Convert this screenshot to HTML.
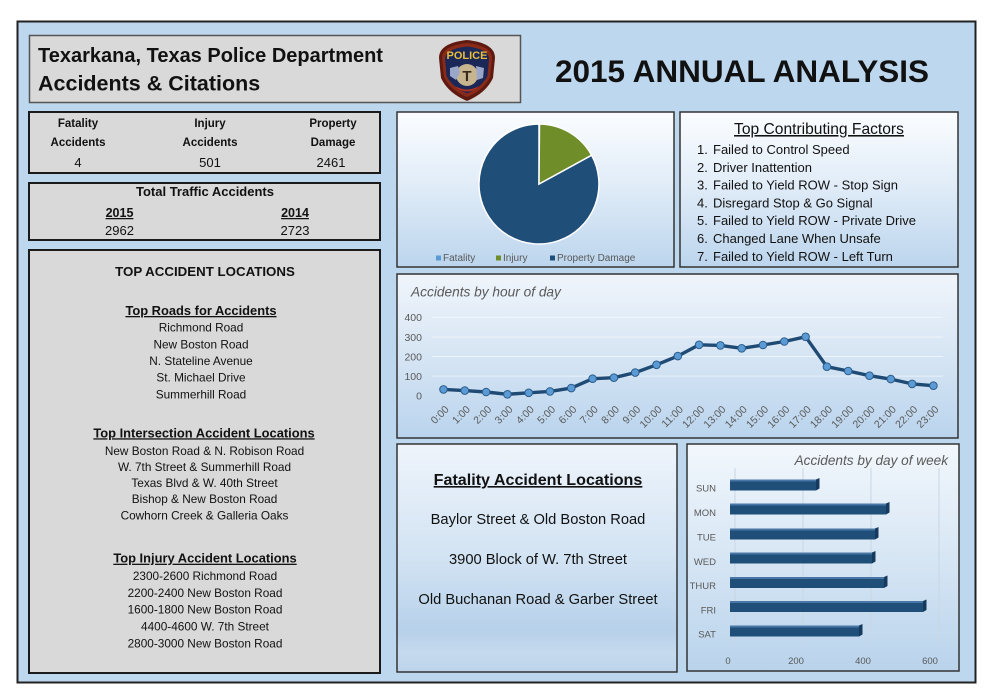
<!DOCTYPE html>
<html>
<head>
<meta charset="utf-8">
<style>
html,body{margin:0;padding:0;background:#fff;}
svg{display:block;}
text{font-family:"Liberation Sans",Arial,sans-serif;}
</style>
</head>
<body>
<svg width="987" height="692" viewBox="0 0 987 692" xmlns="http://www.w3.org/2000/svg">
<defs>
  <linearGradient id="gPie" x1="0" y1="0" x2="0" y2="1">
    <stop offset="0" stop-color="#fbfdff"/>
    <stop offset="0.45" stop-color="#e2edf8"/>
    <stop offset="1" stop-color="#bcd5ed"/>
  </linearGradient>
  <linearGradient id="gLine" x1="0" y1="0" x2="0" y2="1">
    <stop offset="0" stop-color="#f0f5fb"/>
    <stop offset="0.5" stop-color="#d6e5f4"/>
    <stop offset="1" stop-color="#bad4ed"/>
  </linearGradient>
  <linearGradient id="gFat" x1="0" y1="0" x2="0" y2="1">
    <stop offset="0" stop-color="#eef4fb"/>
    <stop offset="0.5" stop-color="#d2e3f3"/>
    <stop offset="0.82" stop-color="#b7d1ea"/>
    <stop offset="0.92" stop-color="#c6daee"/>
    <stop offset="1" stop-color="#bcd4ec"/>
  </linearGradient>
  <linearGradient id="gBar" x1="0" y1="0" x2="0" y2="1">
    <stop offset="0" stop-color="#f2f7fc"/>
    <stop offset="0.5" stop-color="#d7e6f4"/>
    <stop offset="1" stop-color="#b9d3ec"/>
  </linearGradient>
</defs>

<!-- outer frame -->
<rect x="17.5" y="21.5" width="958" height="661" fill="#bdd7ee" stroke="#222" stroke-width="2"/>

<!-- header box -->
<rect x="29.5" y="35.5" width="491" height="67" fill="#d9d9d9" stroke="#555" stroke-width="1.5"/>
<text x="38" y="62" font-size="20" font-weight="bold" fill="#111">Texarkana, Texas Police Department</text>
<text x="38" y="90.5" font-size="21.5" font-weight="bold" fill="#111">Accidents &amp; Citations</text>

<!-- logo -->
<g>
  <path d="M439 58 Q439 43 467 40 Q495 43 495 58 L493 78 Q486 93 467 101 Q448 93 441 78 Z" fill="#5e1a10"/>
  <path d="M442 58 Q442 46 467 43 Q492 46 492 58 L490 77 Q484 90 467 97 Q450 90 444 77 Z" fill="#8a2a18"/>
  <path d="M445 59 Q445 49 467 46.5 Q489 49 489 59 L487.5 76 Q482 87 467 93.5 Q452 87 446.5 76 Z" fill="#1b2757"/>
  <text x="467" y="59" font-size="11" font-weight="bold" fill="#e9bd3c" text-anchor="middle">POLICE</text>
  <circle cx="467" cy="75" r="11" fill="#c7b58f"/>
  <path d="M450 68 L458 66 L460 72 L456 80 L450 76 Z" fill="#9aa7c9"/>
  <path d="M476 66 L484 68 L483 78 L477 80 Z" fill="#9aa7c9"/>
  <text x="467" y="81" font-size="15" font-weight="bold" fill="#3a2a1a" text-anchor="middle">T</text>
  <path d="M455 86 Q467 93 479 86 L476 89 Q467 94 458 89 Z" fill="#b03020"/>
</g>

<text x="555" y="82" font-size="31.5" font-weight="bold" fill="#111">2015 ANNUAL ANALYSIS</text>

<!-- stat box 1 -->
<rect x="29" y="112" width="351" height="61" fill="#d9d9d9" stroke="#1a1a1a" stroke-width="2"/>
<g font-size="11.5" font-weight="bold" fill="#111" text-anchor="middle">
  <text x="78" y="127">Fatality</text>
  <text x="78" y="146">Accidents</text>
  <text x="210" y="127">Injury</text>
  <text x="210" y="146">Accidents</text>
  <text x="333" y="127">Property</text>
  <text x="333" y="146">Damage</text>
</g>
<g font-size="13" fill="#111" text-anchor="middle">
  <text x="78" y="167">4</text>
  <text x="210" y="167">501</text>
  <text x="331" y="167">2461</text>
</g>

<!-- stat box 2 -->
<rect x="29" y="183" width="351" height="57" fill="#d9d9d9" stroke="#1a1a1a" stroke-width="2"/>
<text x="205" y="196" font-size="13" font-weight="bold" fill="#111" text-anchor="middle">Total  Traffic Accidents</text>
<text x="119.5" y="217" font-size="12.5" font-weight="bold" fill="#111" text-anchor="middle" text-decoration="underline">2015</text>
<text x="295" y="217" font-size="12.5" font-weight="bold" fill="#111" text-anchor="middle" text-decoration="underline">2014</text>
<text x="119.5" y="235" font-size="13" fill="#111" text-anchor="middle">2962</text>
<text x="295" y="235" font-size="13" fill="#111" text-anchor="middle">2723</text>

<!-- locations box -->
<rect x="29" y="250" width="351" height="423" fill="#d9d9d9" stroke="#1a1a1a" stroke-width="2"/>
<text x="205" y="276" font-size="13.3" font-weight="bold" fill="#111" text-anchor="middle">TOP ACCIDENT LOCATIONS</text>

<text x="201" y="315" font-size="12.9" font-weight="bold" fill="#111" text-anchor="middle" text-decoration="underline">Top Roads for Accidents</text>
<g font-size="11.8" fill="#111" text-anchor="middle">
  <text x="201" y="331.7">Richmond Road</text>
  <text x="201" y="348.3">New Boston Road</text>
  <text x="201" y="365">N. Stateline Avenue</text>
  <text x="201" y="381.7">St. Michael Drive</text>
  <text x="201" y="398.3">Summerhill Road</text>
</g>

<text x="204" y="437.3" font-size="12.9" font-weight="bold" fill="#111" text-anchor="middle" text-decoration="underline">Top Intersection Accident Locations</text>
<g font-size="11.8" fill="#111" text-anchor="middle">
  <text x="204.5" y="455">New Boston Road &amp; N. Robison Road</text>
  <text x="204.5" y="471.1">W. 7th Street &amp; Summerhill Road</text>
  <text x="204.5" y="487.2">Texas Blvd &amp; W. 40th Street</text>
  <text x="204.5" y="503.2">Bishop &amp; New Boston Road</text>
  <text x="204.5" y="519.3">Cowhorn Creek &amp; Galleria Oaks</text>
</g>

<text x="205" y="562.7" font-size="12.9" font-weight="bold" fill="#111" text-anchor="middle" text-decoration="underline">Top Injury Accident Locations</text>
<g font-size="11.8" fill="#111" text-anchor="middle">
  <text x="205" y="580">2300-2600 Richmond Road</text>
  <text x="205" y="596.8">2200-2400 New Boston Road</text>
  <text x="205" y="613.6">1600-1800 New Boston Road</text>
  <text x="205" y="630.4">4400-4600 W. 7th Street</text>
  <text x="205" y="647.3">2800-3000 New Boston Road</text>
</g>

<!-- pie box -->
<rect x="397" y="112" width="277" height="155" fill="url(#gPie)" stroke="#333" stroke-width="1.5"/>
<path d="M539 184 L591.6 155.2 A60 60 0 1 1 539 124 Z" fill="#1f4e79" stroke="#fff" stroke-width="1.5"/>
<path d="M539 184 L539.5 124 A60 60 0 0 1 591.6 155.2 Z" fill="#6f8e2a" stroke="#fff" stroke-width="1.5"/>
<rect x="436" y="255.5" width="5" height="5" fill="#5b9bd5"/>
<text x="443" y="261" font-size="10" fill="#595959">Fatality</text>
<rect x="496" y="255.5" width="5" height="5" fill="#6f8e2a"/>
<text x="503" y="261" font-size="10" fill="#595959">Injury</text>
<rect x="550" y="255.5" width="5" height="5" fill="#1f4e79"/>
<text x="557" y="261" font-size="10" fill="#595959">Property Damage</text>

<!-- factors box -->
<rect x="680" y="112" width="278" height="155" fill="url(#gPie)" stroke="#333" stroke-width="1.5"/>
<text x="819" y="134" font-size="15.6" fill="#111" text-anchor="middle" text-decoration="underline">Top Contributing Factors</text>
<g font-size="13" fill="#111">
  <text x="697" y="154">1.</text><text x="713" y="154">Failed to Control Speed</text>
  <text x="697" y="171.8">2.</text><text x="713" y="171.8">Driver Inattention</text>
  <text x="697" y="189.6">3.</text><text x="713" y="189.6">Failed to Yield ROW - Stop Sign</text>
  <text x="697" y="207.4">4.</text><text x="713" y="207.4">Disregard Stop &amp; Go Signal</text>
  <text x="697" y="225.2">5.</text><text x="713" y="225.2">Failed to Yield ROW - Private Drive</text>
  <text x="697" y="243">6.</text><text x="713" y="243">Changed Lane When Unsafe</text>
  <text x="697" y="260.8">7.</text><text x="713" y="260.8">Failed to Yield ROW - Left Turn</text>
</g>

<!-- line chart box -->
<rect x="397" y="274" width="561" height="164" fill="url(#gLine)" stroke="#333" stroke-width="1.5"/>
<text x="411" y="296.7" font-size="13.7" font-style="italic" fill="#595959">Accidents by hour of day</text>
<g stroke="#ffffff" stroke-opacity="0.55" stroke-width="1">
  <line x1="432" y1="317.4" x2="943" y2="317.4"/>
  <line x1="432" y1="337" x2="943" y2="337"/>
  <line x1="432" y1="356.5" x2="943" y2="356.5"/>
  <line x1="432" y1="376.1" x2="943" y2="376.1"/>
</g>
<g font-size="10.5" fill="#595959" text-anchor="end">
  <text x="422" y="321.2">400</text>
  <text x="422" y="340.8">300</text>
  <text x="422" y="360.3">200</text>
  <text x="422" y="379.9">100</text>
  <text x="422" y="399.5">0</text>
</g>
<polyline fill="none" stroke="#1f4a74" stroke-width="3.4" stroke-linejoin="round" points="443.5,389.4 464.8,390.6 486.1,392.0 507.4,394.3 528.7,392.8 550.0,391.4 571.3,388.1 592.6,378.7 613.9,377.7 635.2,372.6 656.5,364.8 677.8,356.1 699.1,344.8 720.4,345.4 741.7,348.3 763.0,345.0 784.3,341.5 805.6,336.8 826.9,366.7 848.2,371.0 869.5,375.7 890.8,379.1 912.1,383.9 933.4,385.7"/>
<g fill="#5b9bd5" stroke="#2c5c8c" stroke-width="1">
  <circle cx="443.5" cy="389.4" r="3.8"/><circle cx="464.8" cy="390.6" r="3.8"/><circle cx="486.1" cy="392.0" r="3.8"/><circle cx="507.4" cy="394.3" r="3.8"/>
  <circle cx="528.7" cy="392.8" r="3.8"/><circle cx="550.0" cy="391.4" r="3.8"/><circle cx="571.3" cy="388.1" r="3.8"/><circle cx="592.6" cy="378.7" r="3.8"/>
  <circle cx="613.9" cy="377.7" r="3.8"/><circle cx="635.2" cy="372.6" r="3.8"/><circle cx="656.5" cy="364.8" r="3.8"/><circle cx="677.8" cy="356.1" r="3.8"/>
  <circle cx="699.1" cy="344.8" r="3.8"/><circle cx="720.4" cy="345.4" r="3.8"/><circle cx="741.7" cy="348.3" r="3.8"/><circle cx="763.0" cy="345.0" r="3.8"/>
  <circle cx="784.3" cy="341.5" r="3.8"/><circle cx="805.6" cy="336.8" r="3.8"/><circle cx="826.9" cy="366.7" r="3.8"/><circle cx="848.2" cy="371.0" r="3.8"/>
  <circle cx="869.5" cy="375.7" r="3.8"/><circle cx="890.8" cy="379.1" r="3.8"/><circle cx="912.1" cy="383.9" r="3.8"/><circle cx="933.4" cy="385.7" r="3.8"/>
</g>
<g font-size="10.5" fill="#595959" text-anchor="end">
  <text x="449.5" y="410" transform="rotate(-45 449.5 410)">0:00</text>
  <text x="470.8" y="410" transform="rotate(-45 470.8 410)">1:00</text>
  <text x="492.1" y="410" transform="rotate(-45 492.1 410)">2:00</text>
  <text x="513.4" y="410" transform="rotate(-45 513.4 410)">3:00</text>
  <text x="534.7" y="410" transform="rotate(-45 534.7 410)">4:00</text>
  <text x="556" y="410" transform="rotate(-45 556 410)">5:00</text>
  <text x="577.3" y="410" transform="rotate(-45 577.3 410)">6:00</text>
  <text x="598.6" y="410" transform="rotate(-45 598.6 410)">7:00</text>
  <text x="619.9" y="410" transform="rotate(-45 619.9 410)">8:00</text>
  <text x="641.2" y="410" transform="rotate(-45 641.2 410)">9:00</text>
  <text x="662.5" y="410" transform="rotate(-45 662.5 410)">10:00</text>
  <text x="683.8" y="410" transform="rotate(-45 683.8 410)">11:00</text>
  <text x="705.1" y="410" transform="rotate(-45 705.1 410)">12:00</text>
  <text x="726.4" y="410" transform="rotate(-45 726.4 410)">13:00</text>
  <text x="747.7" y="410" transform="rotate(-45 747.7 410)">14:00</text>
  <text x="769" y="410" transform="rotate(-45 769 410)">15:00</text>
  <text x="790.3" y="410" transform="rotate(-45 790.3 410)">16:00</text>
  <text x="811.6" y="410" transform="rotate(-45 811.6 410)">17:00</text>
  <text x="832.9" y="410" transform="rotate(-45 832.9 410)">18:00</text>
  <text x="854.2" y="410" transform="rotate(-45 854.2 410)">19:00</text>
  <text x="875.5" y="410" transform="rotate(-45 875.5 410)">20:00</text>
  <text x="896.8" y="410" transform="rotate(-45 896.8 410)">21:00</text>
  <text x="918.1" y="410" transform="rotate(-45 918.1 410)">22:00</text>
  <text x="939.4" y="410" transform="rotate(-45 939.4 410)">23:00</text>
</g>

<!-- fatality box -->
<rect x="397" y="444" width="280" height="228" fill="url(#gFat)" stroke="#333" stroke-width="1.5"/>
<text x="538" y="485" font-size="16.1" font-weight="bold" fill="#111" text-anchor="middle" text-decoration="underline">Fatality Accident Locations</text>
<g font-size="14.7" fill="#111" text-anchor="middle">
  <text x="538" y="524">Baylor Street &amp; Old Boston Road</text>
  <text x="538" y="564">3900 Block of W. 7th Street</text>
  <text x="538" y="604">Old Buchanan Road &amp; Garber Street</text>
</g>

<!-- bar chart box -->
<rect x="687" y="444" width="272" height="227" fill="url(#gBar)" stroke="#333" stroke-width="1.5"/>
<text x="948" y="465" font-size="13.6" font-style="italic" fill="#595959" text-anchor="end">Accidents by day of week</text>
<g stroke="#c9d6e3" stroke-width="1">
  <line x1="735" y1="468" x2="735" y2="641"/>
  <line x1="803" y1="468" x2="803" y2="641"/>
  <line x1="871" y1="468" x2="871" y2="641"/>
  <line x1="939" y1="468" x2="939" y2="641"/>
</g>
<g font-size="9.5" fill="#595959" text-anchor="end">
  <text x="716" y="491.7">SUN</text>
  <text x="716" y="516.1">MON</text>
  <text x="716" y="540.7">TUE</text>
  <text x="716" y="565.1">WED</text>
  <text x="716" y="589.1">THUR</text>
  <text x="716" y="613.4">FRI</text>
  <text x="716" y="637.7">SAT</text>
</g>
<g>
  <!-- SUN -->
  <rect x="730" y="479.5" width="86" height="11" fill="#1f4e79"/>
  <rect x="730" y="479.5" width="86" height="2" fill="#4877a6"/>
  <polygon points="816,479.5 819.5,478 819.5,488.5 816,490.5" fill="#153a5e"/>
  <!-- MON -->
  <rect x="730" y="503.5" width="156" height="11" fill="#1f4e79"/>
  <rect x="730" y="503.5" width="156" height="2" fill="#4877a6"/>
  <polygon points="886,503.5 889.5,502 889.5,512.5 886,514.5" fill="#153a5e"/>
  <!-- TUE -->
  <rect x="730" y="528.5" width="145" height="11" fill="#1f4e79"/>
  <rect x="730" y="528.5" width="145" height="2" fill="#4877a6"/>
  <polygon points="875,528.5 878.5,527 878.5,537.5 875,539.5" fill="#153a5e"/>
  <!-- WED -->
  <rect x="730" y="552.5" width="142" height="11" fill="#1f4e79"/>
  <rect x="730" y="552.5" width="142" height="2" fill="#4877a6"/>
  <polygon points="872,552.5 875.5,551 875.5,561.5 872,563.5" fill="#153a5e"/>
  <!-- THUR -->
  <rect x="730" y="577" width="154" height="11" fill="#1f4e79"/>
  <rect x="730" y="577" width="154" height="2" fill="#4877a6"/>
  <polygon points="884,577 887.5,575.5 887.5,586 884,588" fill="#153a5e"/>
  <!-- FRI -->
  <rect x="730" y="601" width="193" height="11" fill="#1f4e79"/>
  <rect x="730" y="601" width="193" height="2" fill="#4877a6"/>
  <polygon points="923,601 926.5,599.5 926.5,610 923,612" fill="#153a5e"/>
  <!-- SAT -->
  <rect x="730" y="625.5" width="129" height="11" fill="#1f4e79"/>
  <rect x="730" y="625.5" width="129" height="2" fill="#4877a6"/>
  <polygon points="859,625.5 862.5,624 862.5,634.5 859,636.5" fill="#153a5e"/>
</g>
<g font-size="9.5" fill="#595959" text-anchor="middle">
  <text x="728" y="664">0</text>
  <text x="796" y="664">200</text>
  <text x="863" y="664">400</text>
  <text x="930" y="664">600</text>
</g>
</svg>
</body>
</html>
